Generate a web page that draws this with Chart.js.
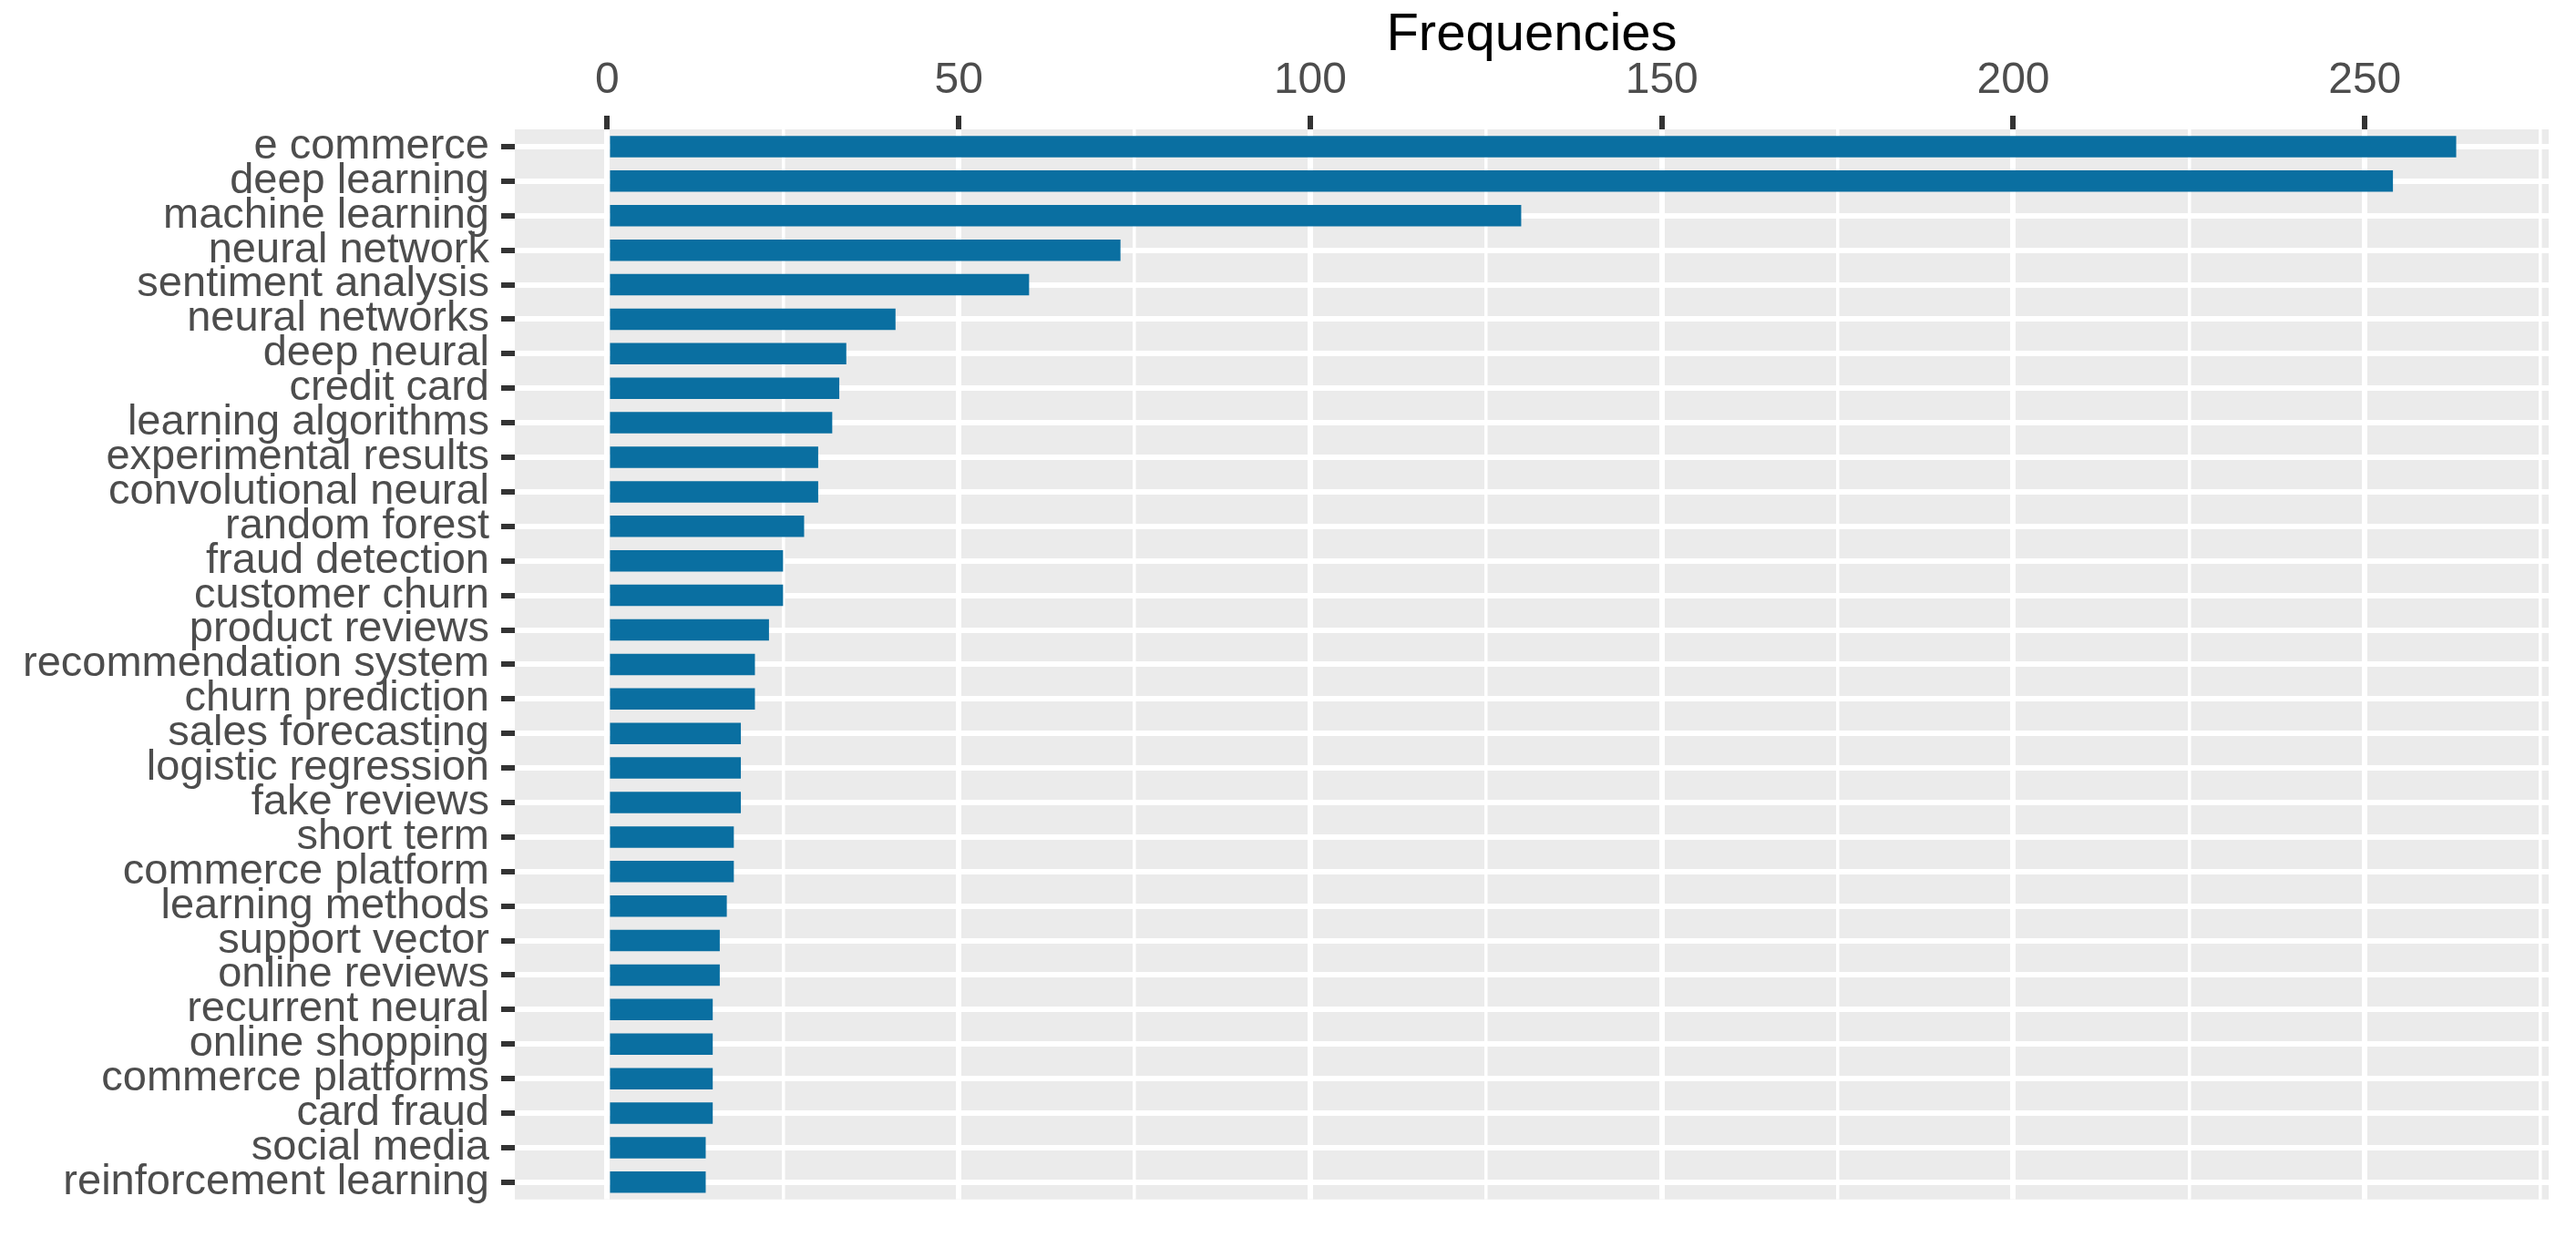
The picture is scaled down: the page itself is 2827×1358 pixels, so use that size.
<!DOCTYPE html>
<html>
<head>
<meta charset="utf-8">
<script src="https://cdn.jsdelivr.net/npm/chart.js@4.4.1/dist/chart.umd.min.js"></script>
<style>
  html, body { margin: 0; padding: 0; background: #fff; }
  canvas { display: block; }
</style>
</head>
<body>
<canvas id="chart" width="2827" height="1358"></canvas>
<script>
const terms = [
    'e commerce', 'deep learning', 'machine learning', 'neural network',
    'sentiment analysis', 'neural networks', 'deep neural', 'credit card',
    'learning algorithms', 'experimental results', 'convolutional neural',
    'random forest', 'fraud detection', 'customer churn', 'product reviews',
    'recommendation system', 'churn prediction', 'sales forecasting',
    'logistic regression', 'fake reviews', 'short term', 'commerce platform',
    'learning methods', 'support vector', 'online reviews', 'recurrent neural',
    'online shopping', 'commerce platforms', 'card fraud', 'social media',
    'reinforcement learning',
];
const frequencies = [
    263, 254, 130, 73, 60, 41, 34, 33, 32, 30, 30, 28, 25, 25, 23, 21, 21,
    19, 19, 19, 18, 18, 17, 16, 16, 15, 15, 15, 15, 14, 14,
];
const majorTicks = [0, 50, 100, 150, 200, 250];
const minorTicks = [25, 75, 125, 175, 225, 275];
const axisTitle = 'Frequencies';

const FONT = '"Liberation Sans", Arial, Helvetica, sans-serif';
const textGrey = '#4D4D4D';
const tickGrey = '#333333';

//ggplot style: 5% padding each side of the value range
const xPad = Math.max(...frequencies) * 0.05;

const panelBg = {
    id: 'panelBg',
    beforeDraw(chart) {
        const {ctx, chartArea: a} = chart;
        ctx.save();
        ctx.fillStyle = '#EBEBEB';
        ctx.fillRect(a.left, a.top, a.right - a.left, a.bottom - a.top);
        ctx.restore();
    },
};

const isMajor = (v) => majorTicks.includes(v);

new Chart(document.getElementById('chart').getContext('2d'), {
    type: 'bar',
    data: {
        labels: terms,
        datasets: [{
            data: frequencies,
            backgroundColor: '#0A6FA1',
            borderWidth: 0,
            barPercentage: 0.62,
            categoryPercentage: 1.0,
        }],
    },
    options: {
        indexAxis: 'y',
        responsive: false,
        animation: false,
        devicePixelRatio: 1,
        layout: {
            padding: {left: 0, top: 0, right: 30, bottom: 29},
        },
        plugins: {
            legend: {display: false},
            tooltip: {enabled: false},
        },
        scales: {
            x: {
                position: 'top',
                min: -xPad,
                max: Math.max(...frequencies) + xPad,
                afterBuildTicks: (scale) => {
                    scale.ticks = majorTicks.concat(minorTicks)
                        .sort((a, b) => a - b)
                        .map(v => ({value: v}));
                },
                afterFit: (scale) => { scale.height = 142; },
                border: {display: false},
                grid: {
                    color: '#FFFFFF',
                    lineWidth: (c) => isMajor(c.tick.value) ? 6 : 3.5,
                    tickColor: (c) => isMajor(c.tick.value) ? tickGrey : 'rgba(0,0,0,0)',
                    tickWidth: 6,
                    tickLength: 15,
                },
                ticks: {
                    autoSkip: false,
                    maxRotation: 0,
                    padding: 9,
                    color: textGrey,
                    font: {family: FONT, size: 48},
                    callback: (v) => isMajor(v) ? String(v) : '',
                },
                title: {
                    display: true,
                    text: axisTitle,
                    color: '#000000',
                    font: {family: FONT, size: 58},
                    padding: {top: 4, bottom: 0},
                },
            },
            y: {
                afterFit: (scale) => { scale.width = 565; },
                border: {display: false},
                grid: {
                    offset: false,
                    color: '#FFFFFF',
                    lineWidth: 6,
                    tickColor: tickGrey,
                    tickWidth: 6,
                    tickLength: 15,
                },
                ticks: {
                    autoSkip: false,
                    padding: 13,
                    color: textGrey,
                    font: {family: FONT, size: 47},
                },
            },
        },
    },
    plugins: [panelBg],
});
</script>
</body>
</html>
